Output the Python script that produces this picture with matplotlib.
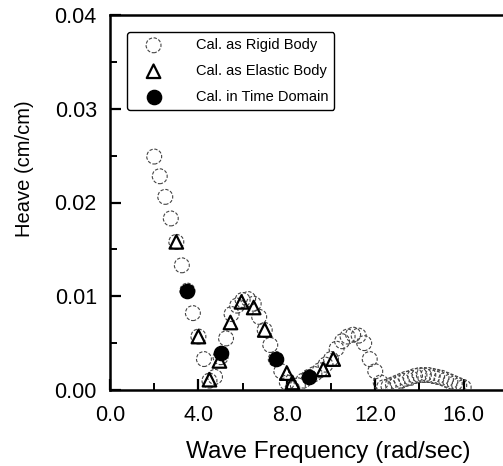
import matplotlib
matplotlib.use("Agg")
import matplotlib.pyplot as plt
from matplotlib.ticker import MultipleLocator, FormatStrFormatter

plt.rcParams['font.family'] = ['Liberation Sans', 'DejaVu Sans']

# Cal. as Rigid Body (open circles)
rigid_x = [2.00, 2.25, 2.50, 2.75, 3.00, 3.25, 3.50, 3.75, 4.00, 4.25, 4.50, 4.75,
           5.00, 5.25, 5.50, 5.75, 6.00, 6.25, 6.50, 6.75, 7.00, 7.25, 7.50, 7.75,
           8.00, 8.25, 8.50, 8.75, 9.00, 9.25, 9.50, 9.75, 10.00, 10.25, 10.50,
           10.75, 11.00, 11.25, 11.50, 11.75, 12.00, 12.25,
           12.40, 12.60, 12.80, 13.00, 13.20, 13.40, 13.60, 13.80, 14.00, 14.20,
           14.40, 14.60, 14.80, 15.00, 15.20, 15.40, 15.60, 15.80, 16.00]
rigid_y = [0.0249, 0.0228, 0.0206, 0.0183, 0.0158, 0.0133, 0.0106, 0.0082, 0.0057, 0.0033, 0.0010, 0.0014,
           0.0035, 0.0055, 0.0081, 0.0090, 0.0096, 0.0097, 0.0092, 0.0078, 0.0064, 0.0048, 0.0033, 0.0020,
           0.0008, 0.0001, 0.0005, 0.0010, 0.0014, 0.0017, 0.0021, 0.0027, 0.0033, 0.0044, 0.0052,
           0.0057, 0.0059, 0.0058, 0.0050, 0.0033, 0.0020, 0.0008,
           0.0003, 0.0004, 0.0006, 0.0008, 0.0010, 0.0012, 0.0013, 0.0015, 0.0016, 0.0016,
           0.0016, 0.0015, 0.0014, 0.0013, 0.0011, 0.0009, 0.0007, 0.0005, 0.0003]

# Cal. as Elastic Body (open triangles)
elastic_x = [3.00, 4.00, 4.50, 4.95, 5.45, 5.95, 6.50, 7.00, 8.00, 8.25, 9.65, 10.10]
elastic_y = [0.0158, 0.0057, 0.0011, 0.0031, 0.0072, 0.0094, 0.0088, 0.0064, 0.0018, 0.0008, 0.0022, 0.0033]

# Cal. in Time Domain (filled circles)
time_x = [3.50, 5.00, 7.50, 9.00]
time_y = [0.0106, 0.0040, 0.0033, 0.0014]

W, H = 503, 466
fig = plt.figure(figsize=(W / 100, H / 100), dpi=100)
ax = fig.add_axes([110 / W, (H - 390) / H, (W - 110) / W, 375 / H])

ax.scatter(rigid_x, rigid_y, s=115, facecolors='none', edgecolors='#444444',
           linewidths=0.8, linestyles=(0, (3, 1.5)), marker='o', zorder=3,
           label='Cal. as Rigid Body')
ax.scatter(elastic_x, elastic_y, s=95, facecolors='none', edgecolors='black',
           linewidths=1.6, marker='^', zorder=4, label='Cal. as Elastic Body')
ax.scatter(time_x, time_y, s=105, facecolors='black', edgecolors='black',
           linewidths=1.0, marker='o', zorder=5, label='Cal. in Time Domain')

ax.set_xlim(0, 17.78)
ax.set_ylim(0, 0.04)
ax.xaxis.set_major_locator(MultipleLocator(4))
ax.xaxis.set_minor_locator(MultipleLocator(2))
ax.yaxis.set_major_locator(MultipleLocator(0.01))
ax.yaxis.set_minor_locator(MultipleLocator(0.005))
ax.xaxis.set_major_formatter(FormatStrFormatter('%.1f'))
ax.yaxis.set_major_formatter(FormatStrFormatter('%.2f'))

ax.tick_params(which='major', direction='in', length=8, width=1.6, labelsize=15.5)
ax.tick_params(which='minor', direction='in', length=5, width=1.4)
ax.tick_params(axis='x', which='major', pad=10.5)
ax.tick_params(axis='y', which='major', pad=9.5)
ax.tick_params(axis='x', which='both', top=False)
ax.tick_params(axis='y', which='both', right=False)

for side in ['left', 'bottom', 'top']:
    ax.spines[side].set_linewidth(1.8)
ax.spines['right'].set_visible(False)

ax.set_xlabel('Wave Frequency (rad/sec)', fontsize=17.5)
ax.set_ylabel('Heave (cm/cm)', fontsize=14.5)
ax.xaxis.set_label_coords((328 - 110) / (W - 110), -(441 - 390) / 375)
ax.yaxis.set_label_coords((34 - 110) / (W - 110), (390 - 169) / 375)

leg = ax.legend(loc='upper left', bbox_to_anchor=(127 / W, (H - 32) / H),
                bbox_transform=fig.transFigure, fontsize=10.5, frameon=True,
                fancybox=True, edgecolor='black', borderpad=0.42,
                handletextpad=1.5, labelspacing=0.82, borderaxespad=0,
                handlelength=2.8, scatterpoints=1)
leg.get_frame().set_linewidth(1.0)
leg.get_frame().set_alpha(1)

fig.savefig('out.png', dpi=100)
